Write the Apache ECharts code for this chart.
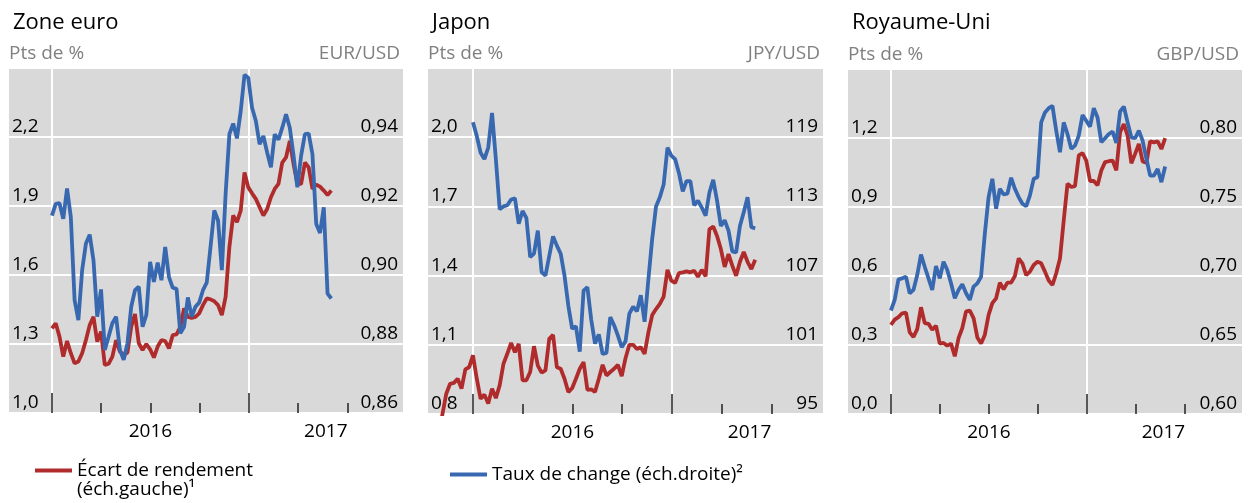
<!DOCTYPE html>
<html>
<head>
<meta charset="utf-8">
<script src="https://cdn.jsdelivr.net/npm/echarts@6/dist/echarts.min.js"></script>
<style>
html,body{margin:0;padding:0;background:#fff;}
#c{width:1254px;height:503px;}
</style>
</head>
<body>
<div id="c"></div>
<script>
// ---------- DATA (weekly, starting first week of 2016) ----------
const panelTitles = ['Zone euro', 'Japon', 'Royaume-Uni'];
const rightUnits = ['EUR/USD', 'JPY/USD', 'GBP/USD'];
const leftUnit = 'Pts de %';
const yearLabels = ['2016', '2017'];

// Zone euro
const euroSpread = [1.368,1.390,1.332,1.245,1.313,1.260,1.216,1.224,1.260,1.317,1.382,1.418,1.310,1.354,1.209,1.214,1.245,1.317,1.267,1.253,1.263,1.375,1.430,1.303,1.274,1.300,1.277,1.241,1.289,1.317,1.313,1.281,1.339,1.342,1.375,1.455,1.418,1.414,1.418,1.433,1.469,1.498,1.494,1.486,1.469,1.426,1.505,1.722,1.859,1.830,1.880,2.046,1.981,1.955,1.931,1.895,1.859,1.887,1.938,1.974,1.996,2.089,2.111,2.183,2.082,1.996,1.996,2.089,2.068,1.974,1.993,1.984,1.967,1.948,1.967];
const euroFx = [0.9172,0.9206,0.9208,0.9163,0.9251,0.9168,0.8927,0.8869,0.9014,0.9091,0.9117,0.9043,0.8879,0.8958,0.8783,0.8821,0.8860,0.8879,0.8783,0.8754,0.8802,0.8908,0.8956,0.8966,0.8850,0.8884,0.9038,0.8980,0.9036,0.8985,0.9081,0.8994,0.8963,0.8960,0.8831,0.8850,0.8935,0.8879,0.8908,0.8920,0.8956,0.8978,0.9081,0.9187,0.9158,0.9014,0.9235,0.9408,0.9439,0.9396,0.9475,0.9580,0.9572,0.9485,0.9447,0.9379,0.9403,0.9355,0.9312,0.9408,0.9392,0.9427,0.9466,0.9427,0.9346,0.9254,0.9346,0.9408,0.9410,0.9350,0.9148,0.9122,0.9196,0.8946,0.8932];

// Japon (yield spread series begins 9 weeks before 2016)
const japanSpreadStartWeek = -9;
const japanSpread = [0.70,0.800,0.888,0.931,0.935,0.953,0.910,0.993,1.003,1.054,0.953,0.866,0.884,0.845,0.910,0.869,0.924,1.018,1.061,1.108,1.068,1.104,0.946,0.946,0.982,1.094,1.010,0.979,0.989,1.126,1.143,1.003,0.996,0.953,0.895,0.912,0.953,0.996,1.025,0.905,0.907,0.895,0.953,1.013,0.967,0.982,0.996,1.013,0.964,1.042,1.100,1.100,1.082,1.090,1.061,1.154,1.229,1.255,1.277,1.309,1.425,1.378,1.368,1.411,1.414,1.418,1.414,1.421,1.395,1.425,1.397,1.601,1.613,1.572,1.515,1.438,1.493,1.443,1.399,1.460,1.503,1.460,1.428,1.469];
const japanFx = [120.3,119.1,117.65,117.1,118.1,121.1,117.1,112.75,113.0,113.1,113.6,113.7,111.5,112.6,112.0,108.6,108.9,110.9,107.3,107.0,108.7,110.4,109.6,108.9,107.0,104.4,102.4,102.6,100.4,105.7,106.0,103.2,101.1,101.9,100.2,100.3,103.4,102.7,101.8,100.8,101.3,103.7,104.3,103.9,105.3,103.0,106.7,110.2,113.0,113.8,114.9,118.1,117.4,117.1,115.9,114.3,115.2,115.2,113.1,113.5,112.9,112.2,114.2,115.3,113.5,111.3,111.8,110.9,109.1,109.0,111.3,112.5,113.8,111.2,111.1];

// Royaume-Uni
const ukSpread = [0.388,0.410,0.421,0.438,0.441,0.355,0.335,0.369,0.464,0.395,0.392,0.366,0.384,0.306,0.309,0.297,0.306,0.251,0.330,0.374,0.446,0.449,0.417,0.333,0.306,0.345,0.431,0.482,0.503,0.571,0.542,0.571,0.571,0.600,0.676,0.655,0.604,0.619,0.648,0.662,0.655,0.619,0.580,0.561,0.612,0.676,0.842,1.001,0.987,0.991,1.124,1.134,1.102,1.013,1.013,0.994,1.059,1.095,1.099,1.102,1.059,1.225,1.261,1.210,1.090,1.131,1.174,1.098,1.092,1.186,1.181,1.186,1.152,1.199];
const ukFx = [0.6750,0.6827,0.6976,0.6983,0.6995,0.6875,0.6899,0.7007,0.7156,0.7067,0.6983,0.6899,0.7072,0.6983,0.7103,0.7043,0.6947,0.6839,0.6899,0.6940,0.6875,0.6827,0.6923,0.6947,0.6995,0.7308,0.7572,0.7704,0.7488,0.7632,0.7591,0.7596,0.7712,0.7632,0.7572,0.7524,0.7505,0.7584,0.7704,0.7716,0.8113,0.8185,0.8216,0.8233,0.8053,0.7897,0.8113,0.8029,0.7921,0.7945,0.8017,0.8166,0.8125,0.8082,0.8216,0.8149,0.7969,0.7998,0.8029,0.8046,0.7964,0.8192,0.8228,0.8113,0.8005,0.7998,0.8053,0.7981,0.7849,0.7728,0.7728,0.7776,0.7680,0.7793];

const spreadName = 'Écart de rendement';
const fxName = 'Taux de change';

// ---------- LAYOUT / STYLE ----------
const RED = '#b02c2c', BLUE = '#3768b0', GREY = '#d9d9d9';
const FONT = '"Open Sans", "Noto Sans", sans-serif';
const grids = [
  {left: 9, top: 68, width: 394, height: 345},
  {left: 428, top: 68, width: 395, height: 346},
  {left: 848, top: 69, width: 394, height: 345}
];
const xRanges = [[2015.782, 2017.782], [2015.774, 2017.759], [2015.781, 2017.791]];
const leftAxes = [{min: 1.0, max: 2.5, interval: 0.3, dec: 1}, {min: 0.8, max: 2.3, interval: 0.3, dec: 1}, {min: 0.0, max: 1.5, interval: 0.3, dec: 1}];
const rightAxes = [{min: 0.86, max: 0.96, interval: 0.02, dec: 2}, {min: 95, max: 125, interval: 6, dec: 0}, {min: 0.60, max: 0.85, interval: 0.05, dec: 2}];
const spreads = [[euroSpread, 0], [japanSpread, japanSpreadStartWeek], [ukSpread, 0]];
const fxs = [[euroFx, 0], [japanFx, 0], [ukFx, 0]];

const WEEK = 7 / 365.25;
const toXY = (vals, start) => vals.map((v, i) => [2016 + (start + i) * WEEK, v]);
const fmt = (v, d) => v.toFixed(d).replace('.', ',');

const option = {
  animation: false,
  backgroundColor: '#fff',
  textStyle: {fontFamily: FONT},
  title: panelTitles.map((t, g) => ({
    text: t, left: grids[g].left - 1, top: 7,
    textStyle: {fontSize: 22, fontWeight: 'normal', color: '#000', fontFamily: FONT}
  })),
  grid: grids.map(gr => Object.assign({show: true, backgroundColor: GREY, borderWidth: 0, containLabel: false}, gr)),
  legend: [
    {left: 30, top: 456, data: [spreadName], icon: 'rect', itemWidth: 37, itemHeight: 4, itemGap: 10,
     textStyle: {fontSize: 19, color: '#000', fontFamily: FONT}},
    {left: 445, top: 460, data: [fxName], icon: 'rect', itemWidth: 37, itemHeight: 4,
     formatter: n => n + ' (éch.droite)²',
     textStyle: {fontSize: 19, color: '#000', fontFamily: FONT}}
  ],
  graphic: [{type: 'text', left: 77, top: 480, style: {text: '(éch.gauche)¹', fontSize: 19, fill: '#000', fontFamily: FONT}}],
  xAxis: [],
  yAxis: [],
  series: []
};

grids.forEach((gr, g) => {
  const [xmin, xmax] = xRanges[g];
  option.xAxis.push({
    type: 'value', gridIndex: g, position: 'bottom', min: xmin, max: xmax,
    axisLine: {show: false},
    axisTick: {show: true, inside: true, length: 20, customValues: [2016, 2017], lineStyle: {color: '#222', width: 1.5}},
    splitLine: {show: true, lineStyle: {color: '#fff', width: 2}},
    axisLabel: {show: true, customValues: [2016.5, 2017.39], margin: 9, fontSize: 19, color: '#000', fontFamily: FONT,
      formatter: v => (v < 2017 ? yearLabels[0] : yearLabels[1])}
  });
  option.xAxis.push({
    type: 'value', gridIndex: g, position: 'bottom', offset: 0, min: xmin, max: xmax,
    axisLine: {show: false},
    axisTick: {show: true, inside: true, length: 10, customValues: [2016.25, 2016.5, 2016.75, 2017.25, 2017.5], lineStyle: {color: '#222', width: 1.5}},
    splitLine: {show: false},
    axisLabel: {show: false}
  });
  const la = leftAxes[g], ra = rightAxes[g];
  option.yAxis.push({
    type: 'value', gridIndex: g, position: 'left', min: la.min, max: la.max, interval: la.interval,
    name: leftUnit, nameLocation: 'end', nameGap: 5,
    nameTextStyle: {align: 'left', fontSize: 19, color: '#808080', fontFamily: FONT, verticalAlign: 'bottom'},
    axisLine: {show: false}, axisTick: {show: false},
    splitLine: {show: true, lineStyle: {color: '#fff', width: 2}},
    axisLabel: {inside: true, margin: 3, showMaxLabel: false, fontSize: 19, color: '#000', fontFamily: FONT,
      verticalAlign: 'bottom', padding: [0, 0, 1, 0], formatter: v => fmt(v, la.dec)}
  });
  option.yAxis.push({
    type: 'value', gridIndex: g, position: 'right', min: ra.min, max: ra.max, interval: ra.interval,
    name: rightUnits[g], nameLocation: 'end', nameGap: 5,
    nameTextStyle: {align: 'right', fontSize: 19, color: '#808080', fontFamily: FONT, verticalAlign: 'bottom', padding: [0, 3, 0, 0]},
    axisLine: {show: false}, axisTick: {show: false}, splitLine: {show: false},
    axisLabel: {inside: true, margin: 5, showMaxLabel: false, fontSize: 19, color: '#000', fontFamily: FONT,
      verticalAlign: 'bottom', padding: [0, 0, 1, 0], formatter: v => fmt(v, ra.dec)}
  });
  option.series.push({
    name: spreadName, type: 'line', xAxisIndex: 2 * g, yAxisIndex: 2 * g,
    data: toXY(spreads[g][0], spreads[g][1]), showSymbol: false, symbol: 'none', clip: true,
    lineStyle: {color: RED, width: 3.8}, itemStyle: {color: RED}, z: 3
  });
  option.series.push({
    name: fxName, type: 'line', xAxisIndex: 2 * g, yAxisIndex: 2 * g + 1,
    data: toXY(fxs[g][0], fxs[g][1]), showSymbol: false, symbol: 'none', clip: true,
    lineStyle: {color: BLUE, width: 3.8}, itemStyle: {color: BLUE}, z: 4
  });
});

const chart = echarts.init(document.getElementById('c'), null, {renderer: 'canvas'});
chart.setOption(option);
</script>
</body>
</html>
